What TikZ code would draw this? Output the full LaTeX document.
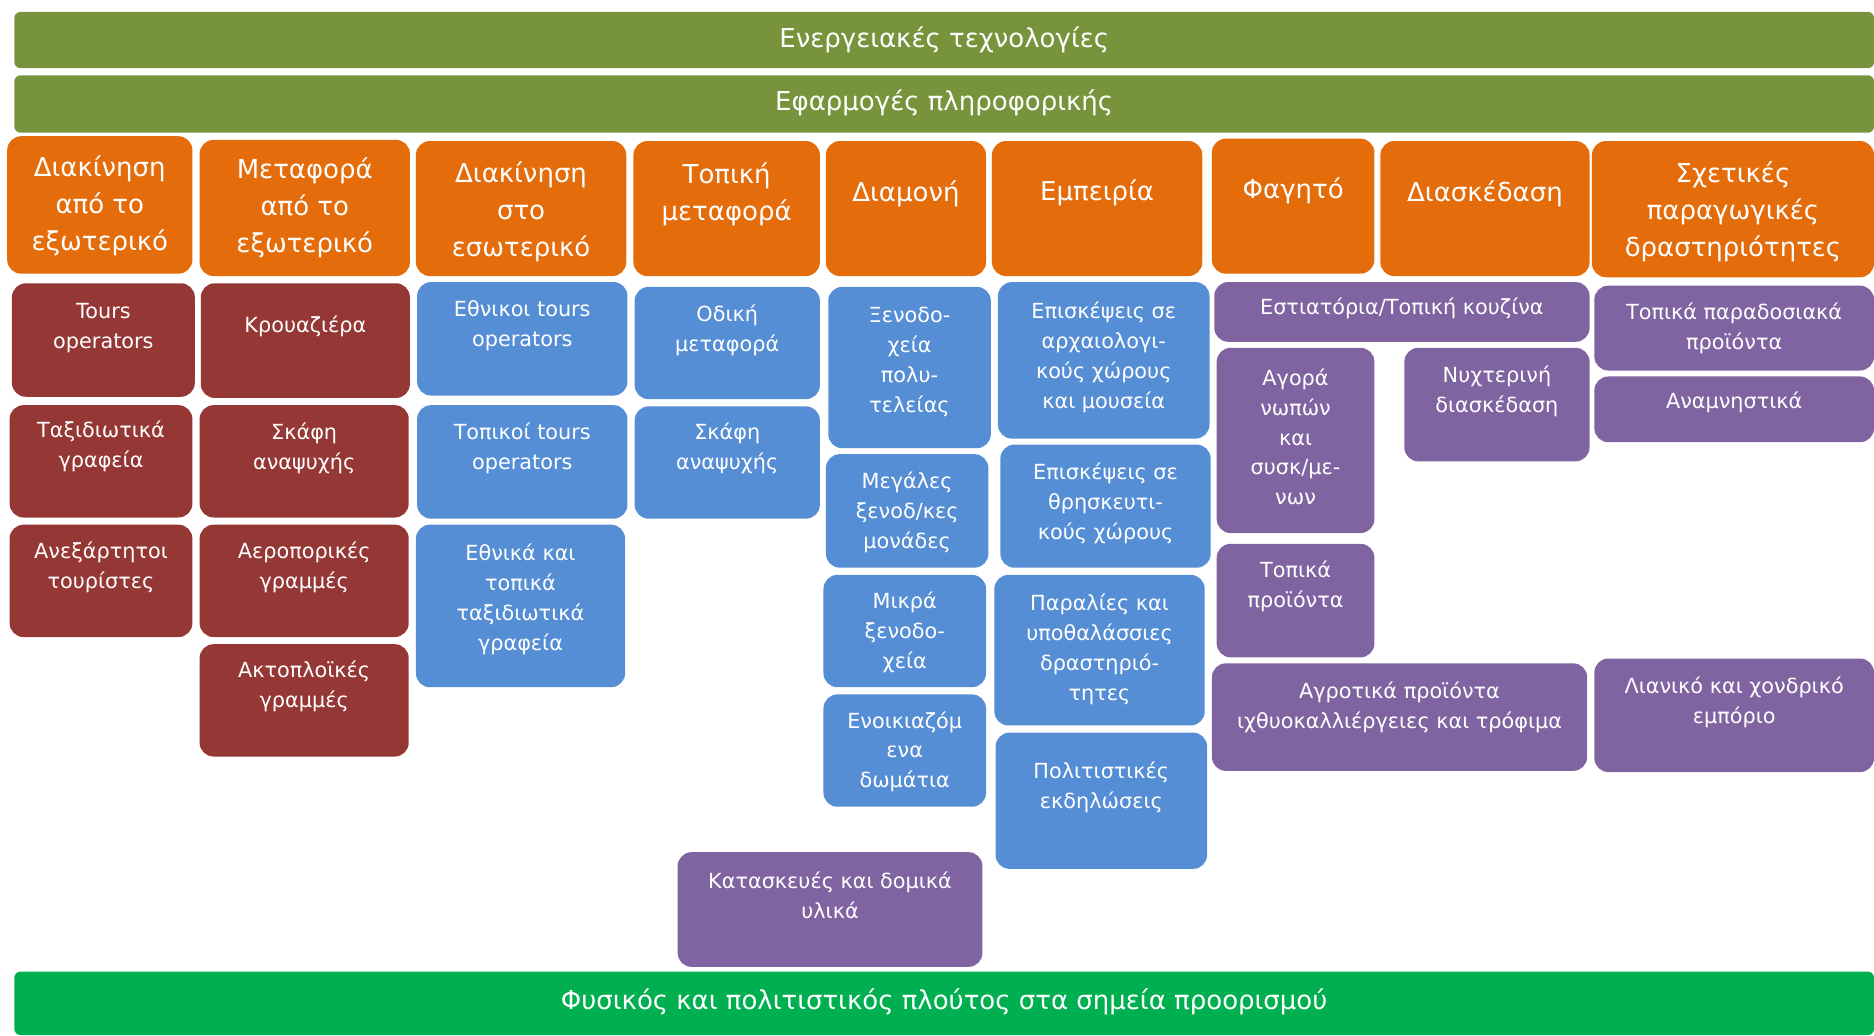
\documentclass[tikz,border=0pt]{standalone}
\usepackage{fontspec}
\setmainfont{DejaVu Sans}
\usepackage{tikz}
\usetikzlibrary{fit}
\usepackage{xcolor}
\definecolor{oliveBar}{HTML}{77933C}
\definecolor{wealthGreen}{HTML}{00B050}
\definecolor{headOrange}{HTML}{E46C0A}
\definecolor{agentRed}{HTML}{953735}
\definecolor{serviceBlue}{HTML}{558ED5}
\definecolor{supplyPurple}{HTML}{8064A2}

\tikzset{
  tile/.style={fill=#1, rounded corners=14pt, inner sep=0pt},
  bar/.style={tile=#1, rounded corners=6pt},
  word/.style={text=white, align=center, inner sep=0pt,
               font=\fontsize{20.8}{29.9}\selectfont},
  headword/.style={word, font=\fontsize{26}{37}\selectfont},
  barword/.style={word, font=\fontsize{26}{30}\selectfont}
}

% name, box style, text style, x1, y1, x2, y2, text y, text
\newcommand{\block}[9]{%
  \node[#2, fit={(#4,#5) (#6,#7)}] (#1) {};
  \node[#3] (#1-t) at ({(#4+#6)/2},#8) {#9};
}

\begin{document}
\begin{tikzpicture}[x=1.1952pt, y=-1.1952pt]
  \useasboundingbox (0,0) rectangle (1568,866);

  % layers
  \block{energy}{bar=oliveBar}{barword}{12}{10}{1568}{57}{33}{Ενεργειακές τεχνολογίες}
  \block{infotech}{bar=oliveBar}{barword}{12}{63}{1568}{111}{86}{Εφαρμογές πληροφορικής}
  \block{wealth}{bar=wealthGreen}{barword}{12}{813}{1568}{866}{838}{Φυσικός και πολιτιστικός πλούτος στα σημεία προορισμού}

  % headers
  \block{abroad}{tile=headOrange}{headword}{6}{114}{161}{229}{172}{Διακίνηση\\από το\\εξωτερικό}
  \block{carrier}{tile=headOrange}{headword}{167}{117}{343}{231}{174}{Μεταφορά\\από το\\εξωτερικό}
  \block{inland}{tile=headOrange}{headword}{348}{118}{524}{231}{177}{Διακίνηση\\στο\\εσωτερικό}
  \block{local}{tile=headOrange}{headword}{530}{118}{686}{231}{162.5}{Τοπική\\μεταφορά}
  \block{stay}{tile=headOrange}{headword}{691}{118}{825}{231}{162}{Διαμονή}
  \block{experience}{tile=headOrange}{headword}{830}{118}{1006}{231}{161}{Εμπειρία}
  \block{food}{tile=headOrange}{headword}{1014}{116}{1150}{229}{160}{Φαγητό}
  \block{fun}{tile=headOrange}{headword}{1155}{118}{1330}{231}{162}{Διασκέδαση}
  \block{related}{tile=headOrange}{headword}{1332}{118}{1568}{232}{177}{Σχετικές\\παραγωγικές\\δραστηριότητες}

  % travel from abroad
  \block{tourop}{tile=agentRed}{word}{10}{237}{163}{332}{274.5}{Tours\\operators}
  \block{agency}{tile=agentRed}{word}{8}{339}{161}{433}{373.5}{Ταξιδιωτικά\\γραφεία}
  \block{solo}{tile=agentRed}{word}{8}{439}{161}{533}{474.5}{Ανεξάρτητοι\\τουρίστες}

  % transport from abroad
  \block{cruise}{tile=agentRed}{word}{168}{237}{343}{333}{273}{Κρουαζιέρα}
  \block{yacht}{tile=agentRed}{word}{167}{339}{342}{433}{375.5}{Σκάφη\\αναψυχής}
  \block{airline}{tile=agentRed}{word}{167}{439}{342}{533}{474.5}{Αεροπορικές\\γραμμές}
  \block{ferry}{tile=agentRed}{word}{167}{539}{342}{633}{574.5}{Ακτοπλοϊκές\\γραμμές}

  % travel inland
  \block{natop}{tile=serviceBlue}{word}{349}{236}{525}{331}{272.5}{Εθνικοι tours\\operators}
  \block{locop}{tile=serviceBlue}{word}{349}{339}{525}{434}{375.5}{Τοπικοί tours\\operators}
  \block{offices}{tile=serviceBlue}{word}{348}{439}{523}{575}{501.5}{Εθνικά και\\τοπικά\\ταξιδιωτικά\\γραφεία}

  % local transport
  \block{road}{tile=serviceBlue}{word}{531}{240}{686}{334}{276.5}{Οδική\\μεταφορά}
  \block{boat}{tile=serviceBlue}{word}{531}{340}{686}{434}{375.5}{Σκάφη\\αναψυχής}

  % accommodation
  \block{luxury}{tile=serviceBlue}{word}{693}{240}{829}{375}{303}{Ξενοδο-\\χεία\\πολυ-\\τελείας}
  \block{large}{tile=serviceBlue}{word}{691}{380}{827}{475}{429}{Μεγάλες\\ξενοδ/κες\\μονάδες}
  \block{small}{tile=serviceBlue}{word}{689}{481}{825}{575}{529}{Μικρά\\ξενοδο-\\χεία}
  \block{rooms}{tile=serviceBlue}{word}{689}{581}{825}{675}{629}{Ενοικιαζόμ\\ενα\\δωμάτια}

  % experience
  \block{museum}{tile=serviceBlue}{word}{835}{236}{1012}{367}{299}{Επισκέψεις σε\\αρχαιολογι-\\κούς χώρους\\και μουσεία}
  \block{church}{tile=serviceBlue}{word}{837}{372}{1013}{475}{421}{Επισκέψεις σε\\θρησκευτι-\\κούς χώρους}
  \block{beach}{tile=serviceBlue}{word}{832}{481}{1008}{607}{543.5}{Παραλίες και\\υποθαλάσσιες\\δραστηριό-\\τητες}
  \block{events}{tile=serviceBlue}{word}{833}{613}{1010}{727}{658.5}{Πολιτιστικές\\εκδηλώσεις}

  % food and fun
  \block{dining}{tile=supplyPurple}{word}{1016}{236}{1330}{286}{258}{Εστιατόρια/Τοπική κουζίνα}
  \block{market}{tile=supplyPurple}{word}{1018}{291}{1150}{446}{365.5}{Αγορά\\νωπών\\και\\συσκ/με-\\νων}
  \block{night}{tile=supplyPurple}{word}{1175}{291}{1330}{386}{327.5}{Νυχτερινή\\διασκέδαση}
  \block{produce}{tile=supplyPurple}{word}{1018}{455}{1150}{550}{490.5}{Τοπικά\\προϊόντα}
  \block{farm}{tile=supplyPurple}{word}{1014}{555}{1328}{645}{591.5}{Αγροτικά προϊόντα\\ιχθυοκαλλιέργειες και τρόφιμα}

  % related production
  \block{crafts}{tile=supplyPurple}{word}{1334}{239}{1568}{310}{274.5}{Τοπικά παραδοσιακά\\προϊόντα}
  \block{souvenir}{tile=supplyPurple}{word}{1334}{315}{1568}{370}{337}{Αναμνηστικά}
  \block{trade}{tile=supplyPurple}{word}{1334}{551}{1568}{646}{587.5}{Λιανικό και χονδρικό\\εμπόριο}
  \block{build}{tile=supplyPurple}{word}{567}{713}{822}{809}{749.5}{Κατασκευές και δομικά\\υλικά}
\end{tikzpicture}
\end{document}
